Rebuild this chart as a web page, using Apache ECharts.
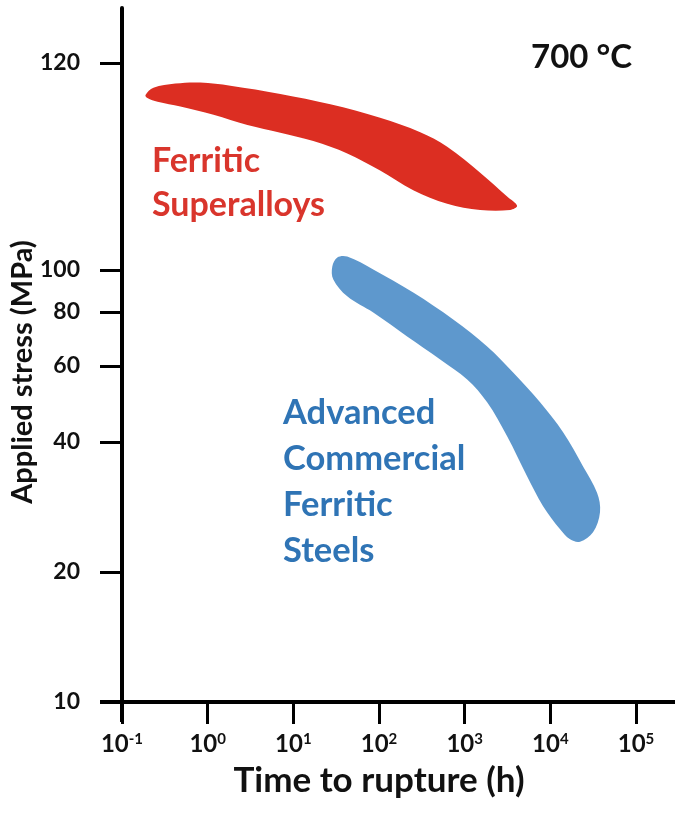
<!DOCTYPE html>
<html>
<head>
<meta charset="utf-8">
<script src="https://cdn.jsdelivr.net/npm/echarts@6/dist/echarts.min.js"></script>
<style>
html,body{margin:0;padding:0;background:#fff;}
#chart{width:685px;height:816px;}
</style>
</head>
<body>
<div id="chart"></div>
<script>
// ---- data (time to rupture in hours, applied stress in MPa) ----
const redHours  = [0.188, 0.233, 0.42, 0.82, 1.84, 7.05, 27, 103, 303, 625, 1517, 3130, 4093,
                   3394, 1517, 625, 251, 103, 42.6, 17.1, 7.05, 2.91, 1.17, 0.48, 0.26, 0.198];
const redStress = [116.9, 117.6, 118.0, 118.1, 117.8, 117.0, 116.0, 114.7, 113.3, 111.9, 109.4, 107.1, 106.2,
                   105.8, 105.8, 106.4, 107.7, 109.6, 111.25, 112.45, 113.25, 114.0, 115.0, 115.8, 116.25, 116.6];

const blueHours  = [32.6, 42.6, 85.7, 251, 735, 1830, 3680, 7590, 14090, 24100, 35100, 38000, 31500,
                    22200, 17000, 13000, 8230, 5350, 3130, 1830, 1070, 518, 213, 85.7, 42.6, 29.3, 28.5];
const blueStress = [106.9, 107.4, 100.3, 88.7, 76.8, 66.5, 57.9, 49.4, 42.1, 35.1, 30.5, 27.5, 24.7,
                    23.5, 23.8, 25.1, 28.4, 33.3, 41.2, 49.4, 55.8, 62.1, 70.2, 79.7, 86.9, 95.1, 101.9];

const xTicks = [0.1, 1, 10, 100, 1000, 10000, 100000];
const yTicksLow = [10, 20, 40, 60, 80, 100];
const yTicksHigh = [120];

const redLabel = 'Ferritic\nSuperalloys';
const blueLabel = 'Advanced\nCommercial\nFerritic\nSteels';
const tempLabel = '700 °C';
const xTitle = 'Time to rupture (h)';
const yTitle = 'Applied stress (MPa)';

// ---- styling ----
const FONT = 'Lato';
const RED = '#dc2e22';
const RED_TEXT = '#d9352c';
const BLUE = '#5e98cd';
const BLUE_TEXT = '#2f74b5';

const chart = echarts.init(document.getElementById('chart'), null, {renderer: 'canvas'});

function polygonSeries(xs, ys, color, axisIdx) {
  return {
    type: 'custom',
    xAxisIndex: axisIdx, yAxisIndex: axisIdx,
    clip: false,
    silent: true,
    data: xs.map((h, i) => [h, ys[i]]),
    renderItem: function (params, api) {
      if (params.dataIndex !== 0) return null;
      const pts = xs.map((h, i) => api.coord([h, ys[i]]));
      return {type: 'polygon', shape: {points: pts, smooth: 0.35}, style: {fill: color}};
    }
  };
}

const sup = n => '{b|10}{s|' + n + '}';

const option = {
  animation: false,
  backgroundColor: '#fff',
  textStyle: {fontFamily: FONT},
  grid: [
    {left: 122, width: 514, top: 8, height: 262},
    {left: 122, width: 514, top: 270, height: 432}
  ],
  xAxis: [
    {gridIndex: 0, type: 'log', min: 0.1, max: 100000, show: false},
    {
      gridIndex: 1, type: 'log', min: 0.1, max: 100000,
      axisLine: {show: true, lineStyle: {color: '#000', width: 4}},
      axisTick: {show: true, customValues: xTicks, length: 22, lineStyle: {color: '#000', width: 3}},
      axisLabel: {
        customValues: xTicks, margin: 30,
        formatter: v => sup(Math.round(Math.log10(v))),
        rich: {
          b: {fontFamily: FONT, fontWeight: 'bold', fontSize: 24, color: '#111'},
          s: {fontFamily: FONT, fontWeight: 'bold', fontSize: 15, color: '#111', padding: [0, 0, 10, 0]}
        }
      },
      splitLine: {show: false},
      name: xTitle, nameLocation: 'middle', nameGap: 61,
      nameTextStyle: {fontFamily: FONT, fontWeight: 'bold', fontSize: 35, color: '#111'}
    }
  ],
  yAxis: [
    {
      gridIndex: 0, type: 'value', min: 100, max: 125.3,
      axisLine: {show: true, lineStyle: {color: '#000', width: 4}},
      axisTick: {show: true, customValues: yTicksHigh, length: 22, lineStyle: {color: '#000', width: 3}},
      axisLabel: {customValues: yTicksHigh, margin: 42, fontFamily: FONT, fontWeight: 'bold', fontSize: 23, color: '#111'},
      splitLine: {show: false}
    },
    {
      gridIndex: 1, type: 'log', min: 10, max: 100,
      axisLine: {show: true, lineStyle: {color: '#000', width: 4}},
      axisTick: {show: true, customValues: yTicksLow, length: 22, lineStyle: {color: '#000', width: 3}},
      axisLabel: {customValues: yTicksLow, margin: 42, fontFamily: FONT, fontWeight: 'bold', fontSize: 23, color: '#111'},
      splitLine: {show: false}
    }
  ],
  series: [
    polygonSeries(redHours, redStress, RED, 0),
    polygonSeries(blueHours, blueStress, BLUE, 1)
  ],
  graphic: [
    // axis line extensions (x axis beyond the tick range, y axis below the x axis)
    {type: 'line', silent: true, shape: {x1: 100, y1: 702, x2: 675, y2: 702}, style: {stroke: '#000', lineWidth: 4}},
    {type: 'line', silent: true, shape: {x1: 122, y1: 700, x2: 122, y2: 722}, style: {stroke: '#000', lineWidth: 4}},
    {type: 'text', silent: true, x: 23, y: 372, rotation: Math.PI / 2,
     style: {text: yTitle, fontFamily: FONT, fontWeight: 'bold', fontSize: 29, fill: '#111', align: 'center', verticalAlign: 'middle'}},
    {type: 'text', silent: true, x: 531, y: 57,
     style: {text: tempLabel, fontFamily: FONT, fontWeight: 'bold', fontSize: 33, fill: '#111', align: 'left', verticalAlign: 'middle'}},
    {type: 'text', silent: true, x: 152, y: 139,
     style: {text: redLabel, fontFamily: FONT, fontWeight: 'bold', fontSize: 34, lineHeight: 44, fill: RED_TEXT, align: 'left', verticalAlign: 'top'}},
    {type: 'text', silent: true, x: 283, y: 390,
     style: {text: blueLabel, fontFamily: FONT, fontWeight: 'bold', fontSize: 34.5, lineHeight: 46, fill: BLUE_TEXT, align: 'left', verticalAlign: 'top'}}
  ]
};
chart.setOption(option);
</script>
</body>
</html>
